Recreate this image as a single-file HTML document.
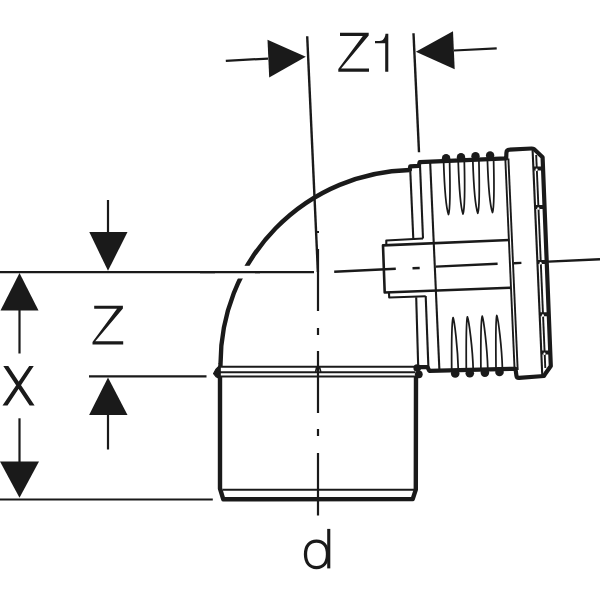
<!DOCTYPE html>
<html><head><meta charset="utf-8">
<style>
html,body{margin:0;padding:0;background:#fff;width:600px;height:600px;overflow:hidden}
svg{display:block}
text{font-family:"Liberation Sans",sans-serif;fill:#1a1a1a}
</style></head><body>
<svg width="600" height="600" viewBox="0 0 600 600">
<rect width="600" height="600" fill="#fff"/>
<g fill="none" stroke="#1a1a1a" stroke-linecap="butt" stroke-linejoin="round">

<!-- ===== Dimension Z1 ===== -->
<line x1="225.8" y1="60.8" x2="268" y2="58.6" stroke-width="2.2"/>
<polygon points="267.5,39.7 269.2,77.5 305.8,56.7" fill="#1a1a1a" stroke="none"/>
<polygon points="415.8,51.7 453,31.3 454.7,69.2" fill="#1a1a1a" stroke="none"/>
<line x1="454" y1="50.5" x2="496.7" y2="48.3" stroke-width="2.2"/>
<!-- extension lines -->
<line x1="307.2" y1="36.3" x2="317.9" y2="272" stroke-width="2.4"/>
<line x1="413.5" y1="33.3" x2="419" y2="152.3" stroke-width="2.4"/>

<!-- ===== Left dimensions ===== -->
<line x1="0" y1="272.2" x2="314" y2="272.2" stroke-width="2.2"/>
<line x1="89" y1="376.3" x2="206.5" y2="376.3" stroke-width="2.2"/>
<line x1="0" y1="499.5" x2="212.8" y2="499.5" stroke-width="2.2"/>
<!-- Z arrows -->
<line x1="108" y1="200" x2="108" y2="233" stroke-width="2.2"/>
<polygon points="89.3,232.1 127.5,232.1 108,270.8" fill="#1a1a1a" stroke="none"/>
<polygon points="108,377.5 89.1,415 127.5,415" fill="#1a1a1a" stroke="none"/>
<line x1="108" y1="414" x2="108" y2="449.5" stroke-width="2.2"/>
<!-- X arrows -->
<polygon points="19.5,273 0.5,310.5 38.5,310.5" fill="#1a1a1a" stroke="none"/>
<line x1="19.5" y1="310" x2="19.5" y2="353.5" stroke-width="2.2"/>
<line x1="19.5" y1="418.3" x2="19.5" y2="462" stroke-width="2.2"/>
<polygon points="0,461.5 39,461.5 19.5,497.8" fill="#1a1a1a" stroke="none"/>

<!-- ===== Centre lines ===== -->
<!-- vertical (pipe) -->
<path d="M316,232 L319,232 M318,249 L318,311 M318,328 L318,335 M318,351 L318,413 M318,429 L318,436 M318,453 L318,515.5" stroke-width="2.2"/>
<!-- tilted (arm) -->
<path d="M334.2,271.7 L395.8,268.8 M412.5,268.3 L419.7,268 M435.8,266.6 L497.6,263.7 M513.8,263.2 L521.4,262.9 M537.4,262.1 L600,259.2" stroke-width="2.4"/>

<!-- ===== Elbow body ===== -->
<!-- arc outer -->
<path d="M220.4,367 L220.53,363.7 A193.83,193.83 0 0 1 409.7,169.93" stroke-width="4.4"/>
<!-- gap in arc -->
<rect x="215" y="265.8" width="40" height="12.7" fill="#fff" stroke="none"/>
<line x1="200" y1="272.2" x2="260" y2="272.2" stroke-width="2.2"/>

<!-- socket bump left -->
<path d="M220.2,364.8 L215.8,369.5 L213.6,373.6 L216,376.6 L219.8,378.6 L220.2,377 L220.2,366.3 Z" fill="#1a1a1a" stroke-width="1.2"/>
<!-- pipe -->
<path d="M220,377 L220,488.5 L223.3,499.3 L412.7,499.1 L415.8,489.6 L416,376" stroke-width="4.4"/>
<line x1="222.5" y1="489.8" x2="414" y2="489.8" stroke-width="2.1"/>
<!-- socket lines -->
<line x1="220" y1="366.8" x2="415" y2="366.8" stroke-width="2"/>
<line x1="218" y1="372.2" x2="415" y2="372.2" stroke-width="2"/>
<line x1="219" y1="376.4" x2="415" y2="376.4" stroke-width="2"/>
<path d="M315.6,372 L316.6,367.5 L319.6,367.5 L320.8,372" stroke-width="1.6"/>
<!-- right socket junction -->
<circle cx="417.2" cy="368" r="3.8" fill="#1a1a1a" stroke="none"/>
<circle cx="418.8" cy="374.3" r="3.9" fill="#1a1a1a" stroke="none"/>

<!-- ===== Right arm outline ===== -->
<path d="M409.7,171 L410.25,166.3 L418.8,165.8 L419.6,162.2 L506.2,158.3 L506.4,153 Q506.5,149.8 509.6,149.7 L531.5,148.5 Q534.2,148.4 535.5,150.5 L542.6,157.3 L550.8,366 L545.5,373.5 L544,376 L519,377.8 Q516.6,377.9 516.4,375.5 L515.5,368.8 L429.3,370.8 L427.5,367.2 L418.3,367.2" stroke-width="4.2"/>
<!-- top bumps -->
<g fill="#1a1a1a" stroke="none">
<circle cx="446.1" cy="158.3" r="4.2"/>
<circle cx="461" cy="157.3" r="4.2"/>
<circle cx="475.5" cy="156.3" r="4.2"/>
<circle cx="490.1" cy="155.4" r="4.2"/>
<!-- bottom bumps -->
<circle cx="455.2" cy="373.5" r="4.3"/>
<circle cx="469.8" cy="373.2" r="4.3"/>
<circle cx="484.9" cy="372.6" r="4.3"/>
<circle cx="499.5" cy="372" r="4.3"/>
</g>

<!-- thin lines of arm -->
<g stroke-width="2.1">
<line x1="410.2" y1="169" x2="413.3" y2="238.7"/>
<line x1="420" y1="165" x2="423" y2="238.5"/>
<path d="M386.3,245 L386.3,240.5 L423,238.5"/>
<!-- spigot -->
<path d="M509.5,240 L383,245.4 L384.7,292.5 L510.5,287.8" stroke-width="2.6"/>
<path d="M389,293 L389.2,297.5 L425.7,296.3"/>
<line x1="416.2" y1="297.3" x2="418.2" y2="367"/>
<line x1="425.7" y1="296" x2="428.4" y2="367"/>
<!-- long vertical -->
<line x1="430.2" y1="163" x2="439.4" y2="370"/>
<!-- flange left double -->
<line x1="505.2" y1="156" x2="514.6" y2="370" stroke-width="1.9"/>
<line x1="508.4" y1="158.5" x2="517.7" y2="370" stroke-width="1.9"/>
<!-- flange right inner lines -->
<line x1="532.6" y1="150" x2="542.3" y2="376" stroke-width="2.1"/>
<line x1="536.2" y1="155" x2="545.3" y2="368" stroke-width="1.9"/>
</g>
<!-- flange notches -->
<g fill="#1a1a1a" stroke="none">
<polygon points="533.3,166.4 542.9,166.4 543.1,170.4 533.4,170.4"/>
<polygon points="534.9,205.1 544.4,205.1 544.6,209.1 535.1,209.1"/>
<polygon points="537.3,259.9 546.5,259.9 546.7,263.9 537.4,263.9"/>
<polygon points="539.5,312.2 548.5,312.2 548.7,316.2 539.7,316.2"/>
<polygon points="541.2,350.4 550.0,350.4 550.1,354.4 541.3,354.4"/>
</g>
<g fill="#fff" stroke="none">
<ellipse cx="536.6" cy="169.8" rx="1.1" ry="1.3"/>
<ellipse cx="538.3" cy="208.5" rx="1.1" ry="1.3"/>
<ellipse cx="540.6" cy="263.3" rx="1.1" ry="1.3"/>
<ellipse cx="542.9" cy="315.6" rx="1.1" ry="1.3"/>
<ellipse cx="544.5" cy="353.8" rx="1.1" ry="1.3"/>
</g>
<!-- teeth upper -->
<g stroke-width="1.75">
<path d="M443.6,161.0 C444.4,186.0 446.3,208.5 448.5,214.5 C450.3,209.5 450.2,186.0 449.6,161.0"/>
<path d="M458.2,160.5 C459.0,185.5 460.8,208.0 463.0,214.0 C464.8,209.0 464.9,185.5 464.3,160.5"/>
<path d="M472.8,159.8 C473.6,184.8 475.6,207.3 477.8,213.3 C479.6,208.3 479.5,184.8 478.9,159.8"/>
<path d="M487.4,159.2 C488.2,184.2 490.3,206.5 492.5,212.5 C494.3,207.5 494.2,184.2 493.6,159.2"/>
</g>
<!-- teeth lower -->
<g stroke-width="1.75">
<path d="M451.7,370.0 C451.5,345.0 451.7,321.6 453.1,317.6 C454.5,320.6 457.7,348.0 458.3,370.0"/>
<path d="M466.3,369.5 C466.1,344.5 466.0,320.9 467.4,316.9 C468.8,319.9 472.6,347.5 473.2,369.5"/>
<path d="M480.9,369.0 C480.7,344.0 480.8,320.2 482.2,316.2 C483.6,319.2 487.2,347.0 487.8,369.0"/>
<path d="M496.0,368.6 C495.8,343.6 495.4,319.5 496.8,315.5 C498.2,318.5 501.8,346.6 502.4,368.6"/>
</g>
</g>

<!-- ===== Labels ===== -->
<g fill="#1a1a1a" stroke="none">
<path id="zg" d="M94.2,305.7 L122.9,305.7 L122.9,308.4 L95.3,341.3 L123.2,341.3 L123.2,344.6 L92.5,344.6 L92.5,341.9 L117,308.8 L94.2,308.8 Z"/>
<path d="M94.2,305.7 L122.9,305.7 L122.9,308.4 L95.3,341.3 L123.2,341.3 L123.2,344.6 L92.5,344.6 L92.5,341.9 L117,308.8 L94.2,308.8 Z" transform="translate(245.8,-272.9)"/>
<path d="M385.2,33.8 L388.3,33.8 L388.3,71.8 L385.2,71.8 L385.2,43.2 L375,43.2 L375,41.1 L379.5,41.1 C383,40.9 385,38.5 385.5,33.8 Z"/>
<path d="M3.3,366 L8.3,366 L34.6,405.4 L29.6,405.4 Z M29.2,366 L33.75,366 L7.5,405.4 L2.5,405.4 Z"/>
<rect x="327.2" y="528.9" width="3.1" height="39.5"/>
</g>
<path d="M305.50,554.30 C305.50,546.08 309.68,541.05 316.50,541.05 C323.32,541.05 327.50,546.08 327.50,554.30 C327.50,562.51 323.32,567.55 316.50,567.55 C309.68,567.55 305.50,562.51 305.50,554.30 Z" fill="none" stroke="#1a1a1a" stroke-width="3.3"/>
</svg>
</body></html>
